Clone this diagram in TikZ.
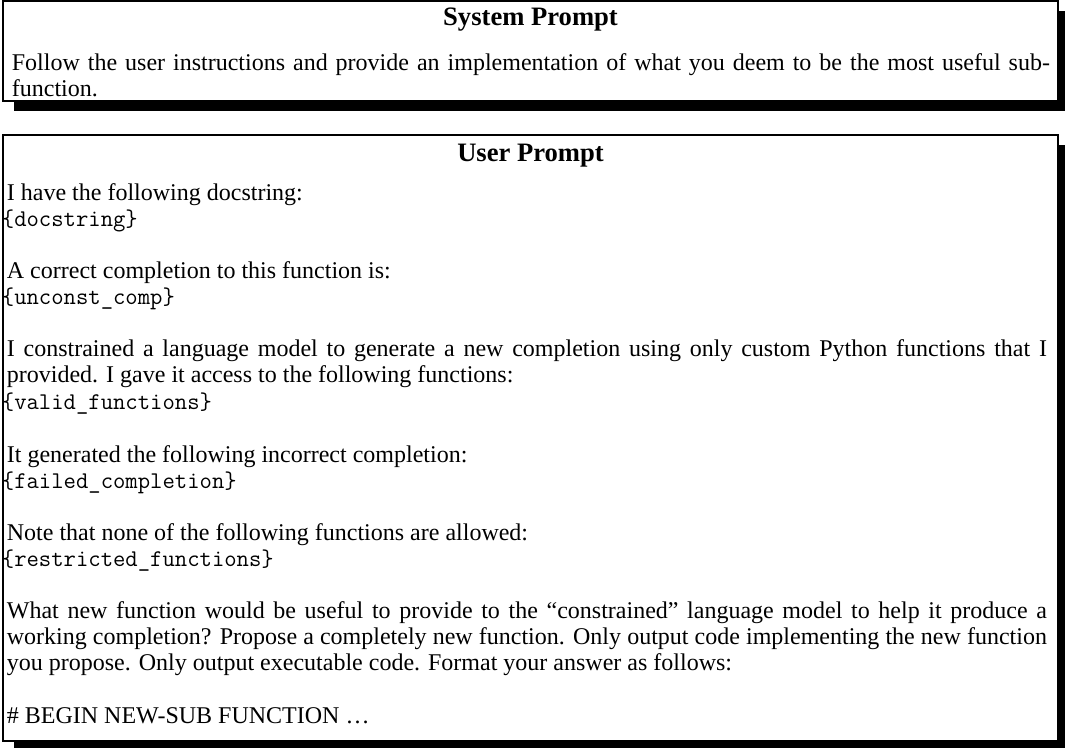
\documentclass[tikz,border=0pt]{standalone}
\usepackage{fontspec}
\setmainfont{Liberation Serif}
\begin{document}
\begin{tikzpicture}[x=0.5pt,y=-0.5pt,
  frame/.style={draw=black, line width=0.75pt, fill=white},
  shade/.style={fill=black},
  heading/.style={anchor=base, inner sep=0pt, font=\fontsize{13.3pt}{16pt}\selectfont\bfseries},
  prose/.style={anchor=base west, inner sep=0pt, font=\fontsize{12pt}{13pt}\selectfont},
  code/.style={anchor=base west, inner sep=0pt, font=\fontsize{12pt}{13pt}\selectfont\ttfamily},
]
\useasboundingbox (0,0) rectangle (1065,748);
\clip (0,0) rectangle (1065,748);

% system prompt box with its drop shadow
\fill[shade] (14,11) rectangle (1069,111);
\draw[frame] (3,1) rectangle (1058,101);
\node[heading] (systitle) at (530.5,26) {System Prompt};
\node[prose] (s1) at (11.5,71) {\makebox[519pt][s]{Follow the user instructions and provide an implementation of what you deem to be the most useful sub-}};
\node[prose] (s2) at (11.5,97) {function.};

% user prompt box with its drop shadow
\fill[shade] (14,145) rectangle (1069,751);
\draw[frame] (3,135) rectangle (1058,741);
\node[heading] (usertitle) at (530.5,162) {User Prompt};

\node[prose] (u1)  at (6.5,201) {I have the following docstring:};
\node[code]  (u2)  at (1.5,227) {\{docstring\}};
\node[prose] (u3)  at (6.5,279) {A correct completion to this function is:};
\node[code]  (u4)  at (1.5,305) {\{unconst\_comp\}};
\node[prose] (u5)  at (6.5,357) {\makebox[520pt][s]{I constrained a language model to generate a new completion using only custom Python functions that I}};
\node[prose] (u6)  at (6.5,383) {provided. I gave it access to the following functions:};
\node[code]  (u7)  at (1.5,409) {\{valid\_functions\}};
\node[prose] (u8)  at (6.5,462) {It generated the following incorrect completion:};
\node[code]  (u9)  at (1.5,488) {\{failed\_completion\}};
\node[prose] (u10) at (6.5,540) {Note that none of the following functions are allowed:};
\node[code]  (u11) at (1.5,566) {\{restricted\_functions\}};
\node[prose] (u12) at (6.5,618) {\makebox[520pt][s]{What new function would be useful to provide to the “constrained” language model to help it produce a}};
\node[prose] (u13) at (6.5,644) {\makebox[520pt][s]{working completion? Propose a completely new function. Only output code implementing the new function}};
\node[prose] (u14) at (6.5,670) {you propose. Only output executable code. Format your answer as follows:};
\node[prose] (u15) at (6.5,723) {\# BEGIN NEW-SUB FUNCTION \ldots};
\end{tikzpicture}
\end{document}
